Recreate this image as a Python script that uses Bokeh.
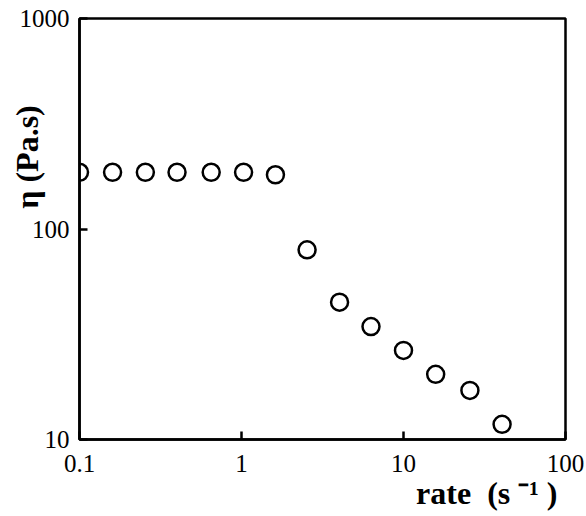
from bokeh.plotting import figure
from bokeh.models import FixedTicker, Range1d, NumeralTickFormatter, Title
from bokeh.embed import file_html
from bokeh.resources import INLINE

# data
rate = [0.10, 0.16, 0.255, 0.40, 0.65, 1.03, 1.62, 2.54, 4.03, 6.3, 10.0, 15.8, 25.7, 40.6]
eta = [186, 186, 186, 186, 186, 186, 181, 79.6, 44.9, 34.4, 26.5, 20.4, 17.1, 11.8]

x_ticks = [0.1, 1, 10, 100]
y_ticks = [10, 100, 1000]
x_title = "rate\u00a0\u00a0(s\u00a0\u207b\u00b9\u00a0)"
y_title = "η (Pa.s)"

FONT = "Liberation Serif"

p = figure(width=586, height=516, x_axis_type="log", y_axis_type="log",
           x_range=Range1d(0.1, 100), y_range=Range1d(10, 1000),
           output_backend="svg", toolbar_location=None,
           min_border_left=79, min_border_top=18, min_border_right=21, min_border_bottom=77)
p.grid.visible = False
p.background_fill_color = "white"
p.outline_line_color = "black"
p.outline_line_width = 2.5

for ax in (p.xaxis[0], p.yaxis[0]):
    ax.axis_line_width = 2.5
    ax.axis_line_color = "black"
    ax.major_tick_in = 8
    ax.major_tick_out = 0
    ax.major_tick_line_width = 2.5
    ax.minor_tick_line_color = None
    ax.major_label_text_font = FONT
    ax.major_label_text_font_size = "25px"
    ax.major_label_text_color = "black"

p.xaxis.ticker = FixedTicker(ticks=x_ticks, minor_ticks=[])
p.yaxis.ticker = FixedTicker(ticks=y_ticks, minor_ticks=[])
p.xaxis.formatter = NumeralTickFormatter(format="0.[0]")
p.yaxis.formatter = NumeralTickFormatter(format="0")
p.xaxis.major_label_standoff = 15
p.yaxis.major_label_standoff = 10

# y axis title: leading non-breaking spaces lift the visible text above the frame centre
p.yaxis.axis_label = "\u00a0" * 18 + y_title
p.yaxis.axis_label_standoff = -28
p.yaxis.axis_label_text_font = FONT
p.yaxis.axis_label_text_font_style = "bold"
p.yaxis.axis_label_text_font_size = "32px"
p.yaxis.axis_label_text_color = "black"

p.scatter(rate, eta, marker="circle", size=17, fill_color=None,
          line_color="black", line_width=2.5)

p.add_layout(Title(text=x_title, align="right", vertical_align="bottom", offset=8, standoff=-3,
                   text_font=FONT, text_font_style="bold", text_font_size="32px",
                   text_color="black"), "below")

open("out.html", "w").write(file_html(p, INLINE))
